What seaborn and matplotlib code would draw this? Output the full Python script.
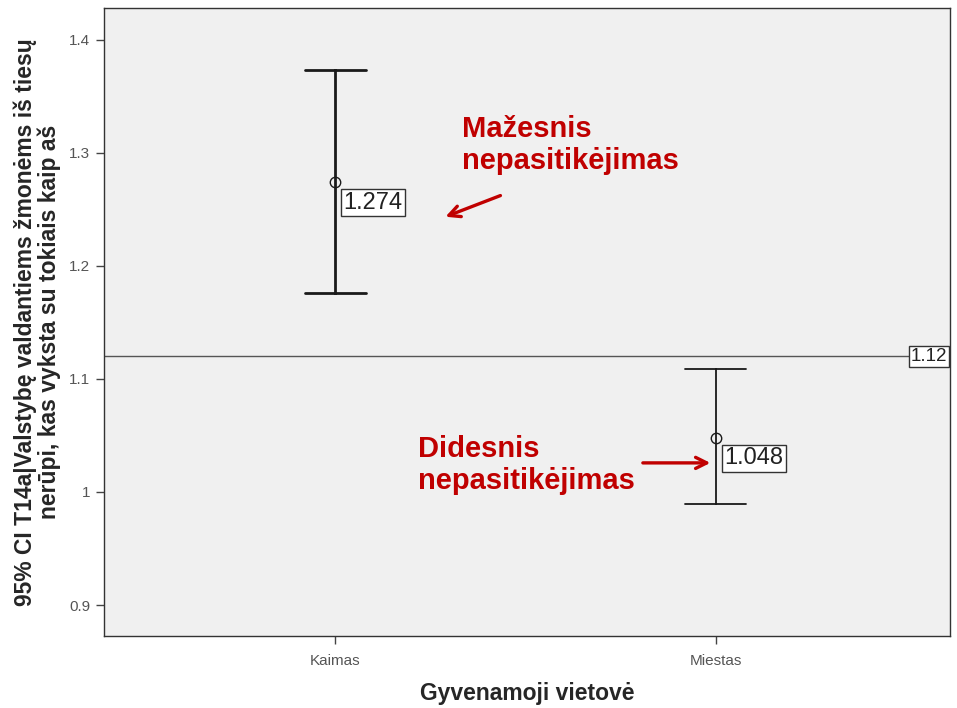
import numpy as np
import pandas as pd
import matplotlib
matplotlib.use("Agg")
import matplotlib.pyplot as plt
import seaborn as sb

# Data
places = ["Kaimas", "Miestas"]
ci_lower = [1.176, 0.989]
means = [1.274, 1.048]
ci_upper = [1.3735, 1.109]
ref_value = 1.12
line_widths = [2.0, 1.3]

# long form: lower / mean / upper per place -> median gives mean, pi 100 gives CI
rows = []
for p, lo, m, hi in zip(places, ci_lower, means, ci_upper):
    for v in (lo, m, hi):
        rows.append({"place": p, "value": v})
df = pd.DataFrame(rows)

sb.set_style("white")
plt.rcParams['font.family'] = ['Liberation Sans', 'DejaVu Sans']

fig = plt.figure(figsize=(9.57, 7.08), dpi=100)
ax = fig.add_axes([104 / 957, 72 / 708, 846 / 957, 628 / 708])
ax.set_facecolor("#F0F0F0")

for p, lw in zip(places, line_widths):
    sb.pointplot(data=df[df["place"] == p], x="place", y="value", order=places,
                 estimator="median", errorbar=("pi", 100), capsize=0.16,
                 color="#1a1a1a", linestyle="none", markers="o",
                 markerfacecolor="none", markeredgewidth=1.0, markersize=7.5,
                 err_kws={"linewidth": lw}, ax=ax)

ax.axhline(ref_value, color="#555555", linewidth=1.0, zorder=1)

ax.set_xlim(-0.607, 1.615)
ax.set_ylim(0.8726, 1.428)
ax.set_yticks([0.9, 1.0, 1.1, 1.2, 1.3, 1.4])
ax.set_yticklabels(["0.9", "1", "1.1", "1.2", "1.3", "1.4"])
ax.tick_params(axis="both", direction="out", length=6, width=1, colors="#444444",
               labelsize=11, labelcolor="#555555", left=True, bottom=True, pad=4)
ax.tick_params(axis="x", pad=7)

for s in ax.spines.values():
    s.set_color("#333333")
    s.set_linewidth(1.0)

ax.set_xlabel("Gyvenamoji vietovė", fontsize=16.5, fontweight="bold", labelpad=10)
ax.set_ylabel("95% CI T14a|Valstybę valdantiems žmonėms iš tiesų\nnerūpi, kas vyksta su tokiais kaip aš",
              fontsize=16.5, fontweight="bold", labelpad=6, linespacing=1.0)

# value labels
box = dict(boxstyle="square,pad=0.1", facecolor="white", edgecolor="#333333", linewidth=1)
for i, m in enumerate(means):
    ax.annotate(f"{m:.3f}", xy=(i, m), xytext=(6, -7), textcoords="offset points",
                ha="left", va="top", fontsize=17, color="#222222", bbox=box)
ax.annotate("1.12", xy=(1.0, ref_value), xycoords=("axes fraction", "data"),
            xytext=(-2, 0), textcoords="offset points", ha="right", va="center",
            fontsize=13.5, color="#222222", bbox=box)

# red annotations
red = "#C00000"
ax.text(0.333, 1.3335, "Mažesnis\nnepasitikėjimas", color=red, fontsize=21,
        fontweight="bold", ha="left", va="top", linespacing=1.2)
ax.annotate("", xy=(0.283, 1.2425), xytext=(0.441, 1.263),
            arrowprops=dict(arrowstyle="->", color=red, lw=2.4, mutation_scale=20))
ax.text(0.218, 1.0507, "Didesnis\nnepasitikėjimas", color=red, fontsize=21,
        fontweight="bold", ha="left", va="top", linespacing=1.2)
ax.annotate("", xy=(0.993, 1.0257), xytext=(0.801, 1.0257),
            arrowprops=dict(arrowstyle="->", color=red, lw=2.4, mutation_scale=20))

fig.savefig("out.png", dpi=100)
